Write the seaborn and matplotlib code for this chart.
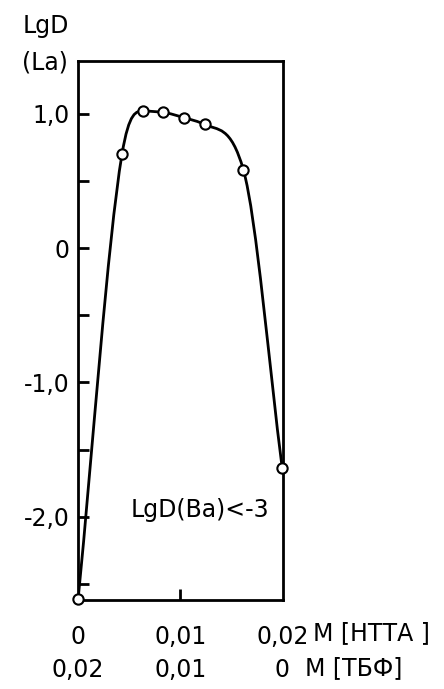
import numpy as np
import matplotlib
matplotlib.use("Agg")
import matplotlib.pyplot as plt
from matplotlib.path import Path
from matplotlib.patches import PathPatch
import seaborn as sns
import pandas as pd

# ---- data ----
conc_htta = [0.0, 0.0043, 0.0064, 0.0083, 0.0104, 0.0124, 0.0162, 0.0200]
lgd_la = [-2.61, 0.70, 1.02, 1.01, 0.97, 0.92, 0.58, -1.64]

xticks = [0.0, 0.01, 0.02]
htta_labels = ["0", "0,01", "0,02"]
tbf_labels = ["0,02", "0,01", "0"]
yticks = [-2.0, -1.0, 0.0, 1.0]
ytick_labels = ["-2,0", "-1,0", "0", "1,0"]

sns.set_theme(style="ticks")
plt.rcParams["font.family"] = ["DejaVu Sans"]
plt.rcParams["font.size"] = 17
plt.rcParams["text.color"] = "black"
plt.rcParams["xtick.color"] = "black"
plt.rcParams["ytick.color"] = "black"

fig = plt.figure(figsize=(4.44, 6.89), dpi=100)
ax = fig.add_axes([0.176, 0.129, 0.462, 0.782])

df = pd.DataFrame({"x": conc_htta, "y": lgd_la})

# smooth hand-drawn-style curve: cubic Hermite tangents rendered as Bezier segments
x = np.asarray(conc_htta, float)
y = np.asarray(lgd_la, float)
h = np.diff(x)
m = np.diff(y) / h
d = np.zeros_like(x)
d[0], d[-1] = m[0], m[-1]
for k in range(1, len(x) - 1):
    if m[k - 1] * m[k] <= 0:
        d[k] = 0.0
    else:
        w1 = 2 * h[k] + h[k - 1]
        w2 = h[k] + 2 * h[k - 1]
        d[k] = (w1 + w2) / (w1 / m[k - 1] + w2 / m[k])
# steep flanks: keep the shoulder points' tangents close to the flank slopes
d[1] = min(m[0], 3 * m[1])
d[-2] = max(m[-1], 3 * m[-2])
verts = [(x[0], y[0])]
codes = [Path.MOVETO]
for k in range(len(x) - 1):
    verts += [(x[k] + h[k] / 3, y[k] + d[k] * h[k] / 3),
              (x[k + 1] - h[k] / 3, y[k + 1] - d[k + 1] * h[k] / 3),
              (x[k + 1], y[k + 1])]
    codes += [Path.CURVE4] * 3
ax.add_patch(PathPatch(Path(verts, codes), facecolor="none",
                       edgecolor="black", lw=2.0, zorder=2))

sns.scatterplot(data=df, x="x", y="y", ax=ax, s=55, marker="o",
                facecolor="white", edgecolor="black", linewidth=1.5,
                zorder=3, clip_on=False, legend=False)

ax.set_xlim(0.0, 0.0201)
ax.set_ylim(-2.62, 1.39)

for s in ax.spines.values():
    s.set_linewidth(2.0)
    s.set_color("black")

ax.set_yticks(yticks)
ax.set_yticklabels(ytick_labels)
ax.set_yticks([-2.5, -1.5, -0.5, 0.5], minor=True)
ax.tick_params(axis="y", which="both", direction="in", length=8, width=2.0,
               pad=6, labelsize=17)

ax.set_xticks(xticks)
ax.set_xticklabels([a + "\n" + b for a, b in zip(htta_labels, tbf_labels)])
for lbl in ax.get_xticklabels():
    lbl.set_linespacing(1.45)
ax.tick_params(axis="x", direction="in", length=8, width=2.0, pad=18,
               labelsize=17)
majt = ax.xaxis.get_major_ticks()
majt[0].tick1line.set_visible(False)
majt[-1].tick1line.set_visible(False)

ax.set_xlabel("")
ax.set_ylabel("")

fig.text(0.05, 0.962, "LgD", fontsize=17, va="center", ha="left")
fig.text(0.05, 0.910, "(La)", fontsize=17, va="center", ha="left")

ax.text(0.0119, -1.95, "LgD(Ba)<-3", fontsize=17, ha="center", va="center")

fig.text(313 / 444, 1 - 633 / 689, "М [НТТА ]", fontsize=17, ha="left", va="center")
fig.text(305 / 444, 1 - 668 / 689, "М [ТБФ]", fontsize=17, ha="left", va="center")

fig.savefig("out.png", dpi=100)
